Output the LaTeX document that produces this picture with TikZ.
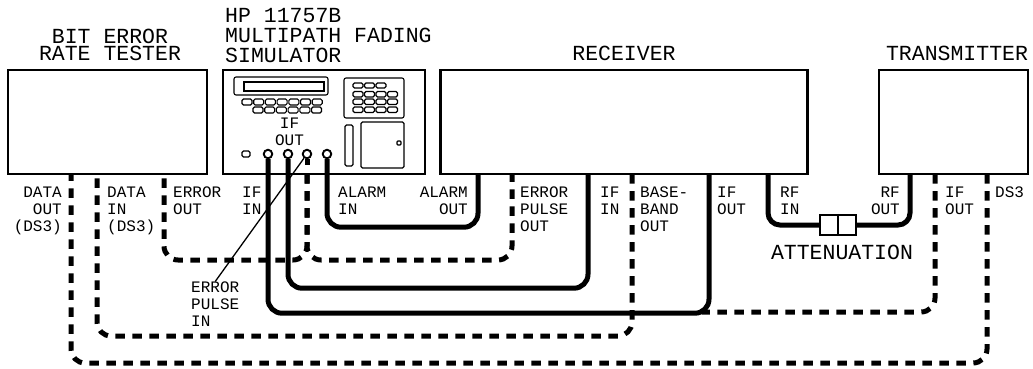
\documentclass[tikz,border=0pt]{standalone}
\usepackage{fontspec}
\setmonofont{Liberation Mono}
\usetikzlibrary{positioning, calc}
\tikzset{
  devbox/.style={draw, line width=2.4pt, minimum height=104pt, inner sep=0pt},
  cable/.style={line width=5pt, rounded corners=14pt},
  dashcable/.style={line width=5pt, rounded corners=14pt, dash pattern=on 9.5pt off 7.5pt},
  leader/.style={line width=1.3pt},
  panel/.style={line width=1.1pt},
  paneldot/.style={line width=1.1pt, rounded corners=1.5pt},
  connector/.style={circle, draw, fill=white, line width=1.9pt, minimum size=8.5pt, inner sep=0pt},
  bigtxt/.style={font=\ttfamily\fontsize{21.5}{17}\selectfont, inner sep=0pt, align=center},
  lbl/.style={font=\ttfamily\fontsize{16}{17}\selectfont, inner sep=0pt, anchor=north west, align=left},
  lblr/.style={font=\ttfamily\fontsize{16}{17}\selectfont, inner sep=0pt, anchor=north east, align=right}
}
\begin{document}
\begin{tikzpicture}[x=1pt, y=-1pt]
\useasboundingbox (0,0) rectangle (1033,368);

\node[devbox, minimum width=199pt] (bert) at (107.5,122) {};
\node[devbox, minimum width=202pt] (sim) at (324,122) {};
\node[devbox, minimum width=367pt] (rx) at (624,122) {};
\node[devbox, minimum width=149pt] (tx) at (953.5,122) {};

\node[bigtxt] at (110,45) {BIT ERROR\\RATE TESTER};
\node[bigtxt, font=\ttfamily\fontsize{21.5}{20}\selectfont, align=left, anchor=north west] at (225,8.5) {HP 11757B\\MULTIPATH FADING\\SIMULATOR};
\node[bigtxt] at (624,53) {RECEIVER};
\node[bigtxt] at (957,53) {TRANSMITTER};

\coordinate (bertdataout) at (71,174);
\coordinate (bertdatain) at (97,174);
\coordinate (berterrout) at (164,174);
\coordinate (simerrin) at (307,174);
\coordinate (rxalarm) at (478,174);
\coordinate (rxerrout) at (512,174);
\coordinate (rxifin) at (588,174);
\coordinate (rxbase) at (632,174);
\coordinate (rxifout) at (709,174);
\coordinate (rxrfin) at (768,174);
\coordinate (txrfout) at (910,174);
\coordinate (txifout) at (935,174);
\coordinate (txds) at (987,174);
\coordinate (ifdashend) at (702,312);

\draw[panel, rounded corners=2pt] (234,77) rectangle (328,95);
\draw[panel] (244,82) rectangle (324,91);
\foreach \kx in {0,...,6}
  \draw[paneldot] ({242+\kx*11.7},99) rectangle ++(10,6);
\foreach \kx in {0,...,5}
  \draw[paneldot] ({253+\kx*11.7},107) rectangle ++(10,6);
\draw[panel, rounded corners=2pt] (344,78) rectangle (404,118);
\foreach \kx in {0,1,2}
  \draw[paneldot] ({353+\kx*11.5},83) rectangle ++(10,5);
\foreach \ky in {91.5,99,107}
  \foreach \kx in {0,1,2,3}
    \draw[paneldot] ({353+\kx*11.5},\ky) rectangle ++(10,5.5);
\draw[panel, rounded corners=1.5pt] (345,125) rectangle (353,166);
\draw[panel, rounded corners=1.5pt] (361,122) rectangle (404,168);
\draw[panel, rounded corners=1pt] (397,141) rectangle (401,145);
\draw[paneldot] (242,151) rectangle (250,157);
\node[lbl, anchor=center, align=center] at (289.5,131.5) {IF\\OUT};

\draw[dashcable] (simerrin) -- ++(0,86) -| (berterrout);
\draw[dashcable] (simerrin) -- ++(0,86) -| (rxerrout);
\draw[dashcable] (rxbase) -- ++(0,162) -| (bertdatain);
\draw[dashcable] (txifout) -- ++(0,138) -- (ifdashend);
\draw[dashcable] (txds) -- ++(0,189) -| (bertdataout);

\node[connector] (simifin) at (268,154) {};
\node[connector] (simifout) at (288,154) {};
\node[connector] (simerr) at (307,154) {};
\node[connector] (simalarm) at (327,154) {};

\draw[cable] (simifin.south) -- ++(0,154) -| (rxifout);
\draw[cable] (simifout.south) -- ++(0,129) -| (rxifin);
\draw[cable] (simalarm.south) -- ++(0,68) -| (rxalarm);
\draw[line width=5pt] (simerr.south) -- ++(0,6);

\node[draw, line width=2.4pt, minimum width=36pt, minimum height=20pt, inner sep=0pt] (atten) at (838,225) {};
\draw[line width=1.6pt] (atten.north) -- (atten.south);
\draw[cable, rounded corners=12pt] (rxrfin) |- (atten.west);
\draw[cable, rounded corners=12pt] (txrfout) |- (atten.east);
\node[bigtxt] at (842,252) {ATTENUATION};

\node[lblr] at (62,186.5) {DATA\\OUT\\(DS3)};
\node[lbl] at (107,186.5) {DATA\\IN\\(DS3)};
\node[lbl] at (173,186.5) {ERROR\\OUT};
\node[lbl] at (242,186.5) {IF\\IN};
\node[lbl] at (338,186.5) {ALARM\\IN};
\node[lblr] at (468,186.5) {ALARM\\OUT};
\node[lbl] at (520,186.5) {ERROR\\PULSE\\OUT};
\node[lbl] at (600,186.5) {IF\\IN};
\node[lbl] at (640,186.5) {BASE-\\BAND\\OUT};
\node[lbl] at (717,186.5) {IF\\OUT};
\node[lbl] at (780,186.5) {RF\\IN};
\node[lblr] at (900,186.5) {RF\\OUT};
\node[lbl] at (945,186.5) {IF\\OUT};
\node[lbl] at (995,186.5) {DS3};
\node[lbl] (errpulse) at (191,281.5) {ERROR\\PULSE\\IN};

\draw[leader] (errpulse.north) -- (simerr);
\end{tikzpicture}
\end{document}
